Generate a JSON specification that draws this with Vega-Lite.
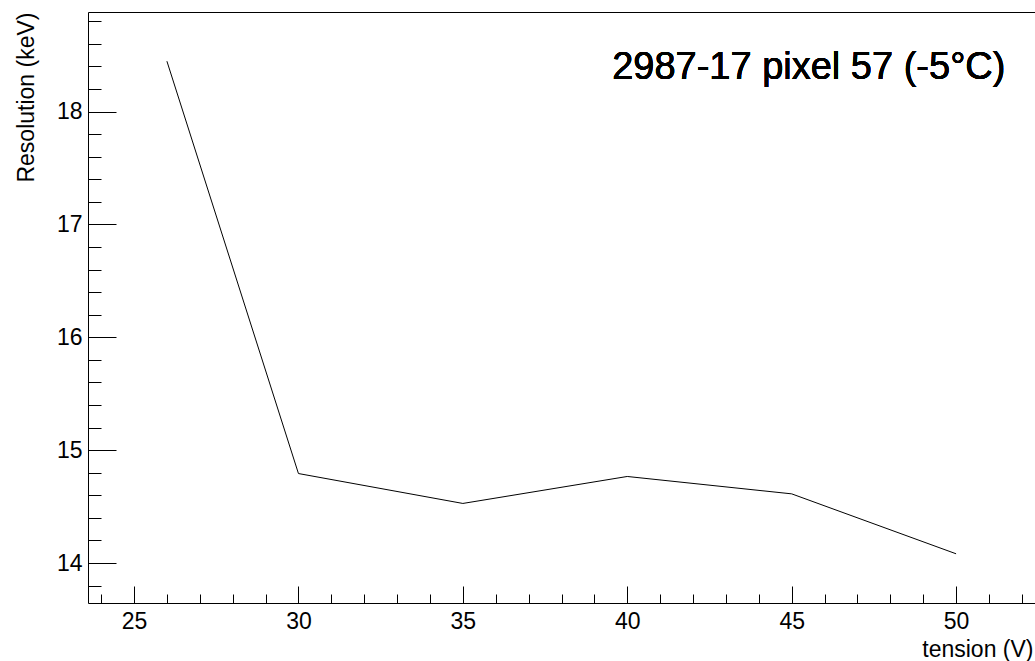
{
  "$schema": "https://vega.github.io/schema/vega-lite/v6.json",
  "width": 947,
  "height": 591,
  "autosize": "none",
  "padding": {"left": 88, "top": 12, "right": 0, "bottom": 58},
  "background": "white",
  "config": {
    "view": {"stroke": null},
    "font": "Liberation Sans",
    "axis": {"grid": false, "domainColor": "black", "tickColor": "black", "labelColor": "black", "titleColor": "black", "labelFont": "Liberation Sans", "titleFont": "Liberation Sans", "titleFontWeight": "normal"}
  },
  "data": {
    "values": [
      {"tension": 26, "resolution": 18.446},
      {"tension": 30, "resolution": 14.793},
      {"tension": 35, "resolution": 14.528},
      {"tension": 40, "resolution": 14.767},
      {"tension": 45, "resolution": 14.613},
      {"tension": 50, "resolution": 14.082}
    ]
  },
  "layer": [
    {
      "mark": {"type": "line", "color": "black", "strokeWidth": 1, "clip": true},
      "encoding": {
        "x": {"field": "tension", "type": "quantitative",
          "scale": {"domain": [23.6, 52.4], "nice": false, "zero": false},
          "axis": {"orient": "bottom", "values": [25, 30, 35, 40, 45, 50], "tickSize": -17, "labelPadding": 24, "labelFontSize": 23, "labelFlush": false, "domain": true, "domainWidth": 1,
            "title": "tension (V)", "titleFontSize": 23, "titleX": 945, "titleY": 53, "titleAlign": "right", "titleAnchor": null, "titleBaseline": "alphabetic"}},
        "y": {"field": "resolution", "type": "quantitative",
          "scale": {"domain": [13.646, 18.882], "nice": false, "zero": false},
          "axis": {"orient": "left", "values": [14, 15, 16, 17, 18], "tickSize": -28, "labelPadding": 34, "labelFontSize": 23, "domain": true,
            "title": "Resolution (keV)", "titleFontSize": 23, "titleX": -55, "titleY": 0, "titleAngle": -90, "titleAlign": "right", "titleAnchor": null, "titleBaseline": "alphabetic"}}
      }
    },
    {
      "mark": {"type": "line", "strokeOpacity": 0},
      "encoding": {
        "x": {"field": "tension", "type": "quantitative",
          "axis": {"orient": "bottom", "values": [24, 26, 27, 28, 29, 31, 32, 33, 34, 36, 37, 38, 39, 41, 42, 43, 44, 46, 47, 48, 49, 51, 52], "tickSize": -9, "labels": false, "domain": false, "title": null}},
        "y": {"field": "resolution", "type": "quantitative",
          "axis": {"orient": "left", "values": [13.8, 14.2, 14.4, 14.6, 14.8, 15.2, 15.4, 15.6, 15.8, 16.2, 16.4, 16.6, 16.8, 17.2, 17.4, 17.6, 17.8, 18.2, 18.4, 18.6, 18.8], "tickSize": -13, "labels": false, "domain": false, "title": null}}
      }
    },
    {
      "mark": {"type": "line", "strokeOpacity": 0},
      "encoding": {
        "x": {"field": "tension", "type": "quantitative",
          "axis": {"orient": "top", "ticks": false, "labels": false, "domain": true, "title": null}},
        "y": {"field": "resolution", "type": "quantitative", "axis": null}
      }
    },
    {
      "mark": {"type": "text", "text": "2987-17 pixel 57 (-5°C)", "fontSize": 38, "fontWeight": "normal", "align": "left", "baseline": "alphabetic", "color": "black", "font": "Liberation Sans"},
      "encoding": {
        "x": {"datum": 39.54, "type": "quantitative", "axis": null},
        "y": {"datum": 18.29, "type": "quantitative", "axis": null}
      }
    }
  ],
  "resolve": {"axis": {"x": "independent", "y": "independent"}}
}
